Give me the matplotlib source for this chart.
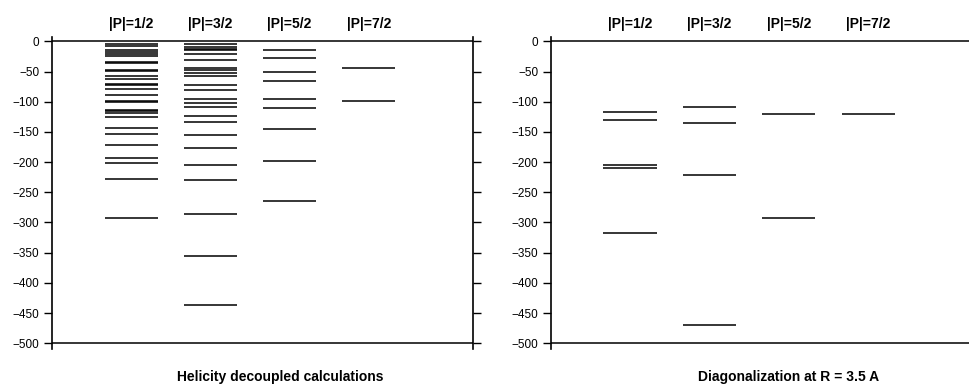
import matplotlib.pyplot as plt

plt.rcParams['font.family'] = ['Liberation Sans', 'DejaVu Sans']

labels = ['|P|=1/2', '|P|=3/2', '|P|=5/2', '|P|=7/2']

# energy levels, helicity decoupled calculations
helicity = [
    [-4, -7, -14, -17, -21, -24, -34, -36, -47, -49, -57, -62, -70, -73, -79,
     -89, -98, -100, -113, -116, -119, -125, -144, -154, -171, -193, -201,
     -228, -292],
    [-5, -9, -12, -14, -21, -31, -44, -47, -52, -57, -73, -80, -95, -102,
     -109, -123, -134, -155, -177, -204, -229, -286, -356, -436],
    [-15, -28, -50, -65, -95, -111, -145, -199, -265],
    [-44, -98],
]

# energy levels, diagonalization at R = 3.5 A
diagonal = [
    [-117, -131, -205, -209, -317],
    [-108, -135, -222, -469],
    [-120, -292],
    [-120],
]

fig = plt.figure(figsize=(9.7, 3.87), dpi=100)
W, H = 970, 387

ax1 = fig.add_axes([52 / W, (387 - 349.3) / H, 421 / W, 312.8 / H])
ax2 = fig.add_axes([551 / W, (387 - 349.3) / H, 419 / W, 312.8 / H])

half = 0.335
for ax, data, xl, title, tx in [
        (ax1, helicity, (-1.006, 4.32), 'Helicity decoupled calculations', 280),
        (ax2, diagonal, (-0.994, 4.28), 'Diagonalization at R = 3.5 A', 789)]:
    ax.set_xlim(*xl)
    ax.set_ylim(-510, 8)
    for i, levels in enumerate(data):
        ax.hlines(levels, i - half, i + half, color='black', lw=1.1)
        ax.text(i, 1.04, labels[i], transform=ax.get_xaxis_transform(),
                ha='center', va='center', fontsize=10, fontweight='bold')
    ax.axhline(0, color='black', lw=1.1)
    ax.axhline(-500, color='black', lw=1.1)
    ax.spines['top'].set_visible(False)
    ax.spines['bottom'].set_visible(False)
    ax.set_xticks([])
    ax.set_yticks(range(0, -501, -50))
    ax.tick_params(axis='y', direction='out', length=6, width=1,
                   labelsize=8.5, colors='black', pad=3)
    ax.spines['left'].set_linewidth(1.2)
    fig.text(tx / W, 1 - 377 / H, title, ha='center', va='center',
             fontsize=10, fontweight='bold')

ax1.tick_params(axis='y', right=True)
ax1.spines['right'].set_linewidth(1.2)
ax2.spines['right'].set_visible(False)

fig.savefig('out.png', dpi=100)
